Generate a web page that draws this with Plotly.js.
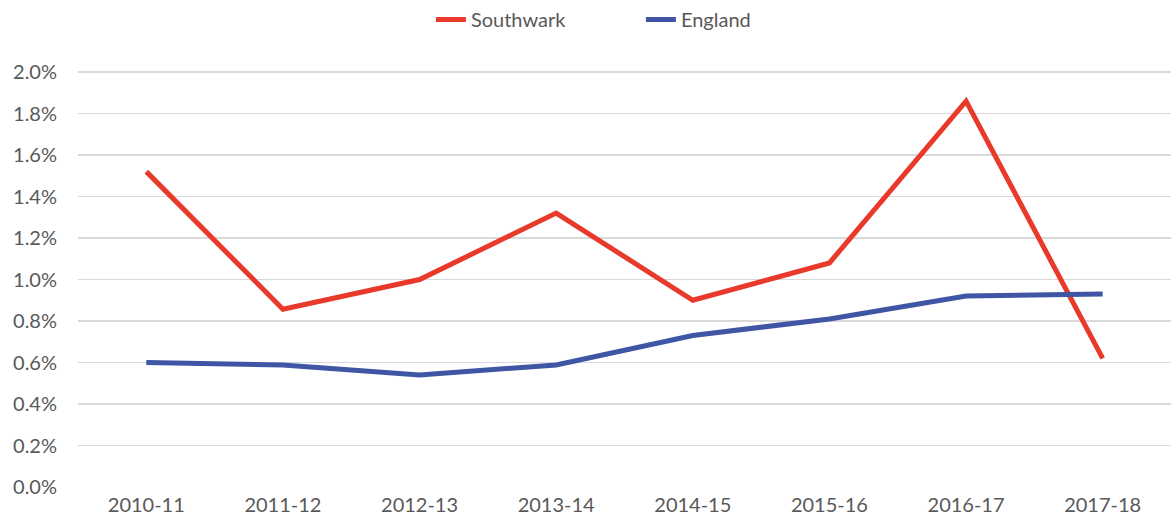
<!DOCTYPE html>
<html>
<head>
<meta charset="utf-8">
<script src="https://cdn.plot.ly/plotly-3.0.1.min.js"></script>
<style>html,body{margin:0;padding:0;background:#fff;}#chart{width:1171px;height:530px;}</style>
</head>
<body>
<div id="chart"></div>
<script>
const years = ["2010-11","2011-12","2012-13","2013-14","2014-15","2015-16","2016-17","2017-18"];
const southwark = [0.0152,0.00857,0.0100,0.0132,0.0090,0.0108,0.0186,0.0062];
const england = [0.0060,0.00588,0.0054,0.00588,0.0073,0.0081,0.0092,0.0093];
const yTicks = [0,0.002,0.004,0.006,0.008,0.010,0.012,0.014,0.016,0.018,0.020];

const font = {family: "Lato, 'Open Sans', sans-serif", size: 20, color: "#595959"};
const traces = [
  {x: years, y: southwark, name: "Southwark", type: "scatter", mode: "lines",
   line: {color: "#E8392A", width: 5}},
  {x: years, y: england, name: "England", type: "scatter", mode: "lines",
   line: {color: "#3F56A5", width: 5}}
];
const layout = {
  width: 1171, height: 530,
  margin: {l: 78, r: 0, t: 71, b: 43},
  paper_bgcolor: "#fff", plot_bgcolor: "#fff",
  font: font,
  showlegend: true,
  legend: {orientation: "h", x: 0.515, xanchor: "center", y: 1.0, yanchor: "top",
           yref: "container", font: font, itemwidth: 30, entrywidth: 165, entrywidthmode: "pixels"},
  xaxis: {type: "category", range: [-0.5, 7.5], showgrid: false, zeroline: false,
          showline: false, ticks: "", tickfont: font, ticklabelstandoff: 4},
  yaxis: {range: [0, 0.02005], tickvals: yTicks, tickformat: ".1%", showgrid: true,
          gridcolor: "#D9D9D9", gridwidth: 1.5, zeroline: false, showline: false,
          ticks: "", tickfont: font, ticklabelstandoff: 20, automargin: false}
};
Plotly.newPlot("chart", traces, layout, {displayModeBar: false, staticPlot: true});
</script>
</body>
</html>
